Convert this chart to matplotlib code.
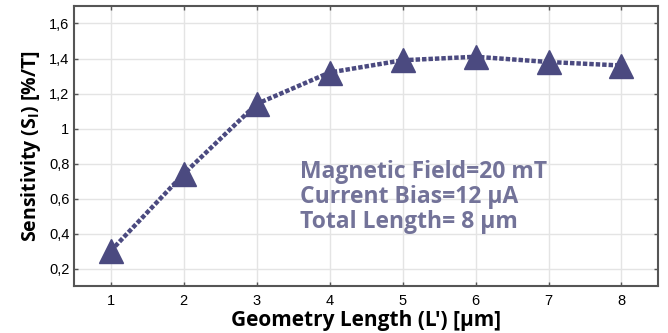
import matplotlib.pyplot as plt

plt.rcParams['font.family'] = ['Liberation Sans', 'DejaVu Sans']

# data
lengths = [1, 2, 3, 4, 5, 6, 7, 8]
sensitivity = [0.30, 0.74, 1.14, 1.32, 1.39, 1.41, 1.38, 1.36]
y_ticks = [0.2, 0.4, 0.6, 0.8, 1.0, 1.2, 1.4, 1.6]
y_tick_labels = ['0,2', '0,4', '0,6', '0,8', '1', '1,2', '1,4', '1,6']
notes = ['Magnetic Field=20 mT', 'Current Bias=12 μA', 'Total Length= 8 μm']

line_col = '#4b4a80'
text_col = '#737399'

fig = plt.figure(figsize=(6.68, 3.33), dpi=100)
ax = fig.add_axes([0.111, 0.141, 0.874, 0.841])

ax.plot(lengths, sensitivity, color=line_col, lw=3.2, ls=(0, (1.0, 0.45)),
        marker='^', markersize=17, markerfacecolor=line_col,
        markeredgecolor=line_col, zorder=3)

ax.set_xlim(0.5, 8.5)
ax.set_ylim(0.1, 1.7)
ax.set_xticks(lengths)
ax.set_yticks(y_ticks)
ax.set_yticklabels(y_tick_labels)
ax.tick_params(labelsize=10.5, length=3, width=1, color='#555555',
               top=True, right=True, direction='in')
ax.tick_params(axis='x', pad=6)
ax.grid(True, color='#e4e4e4', lw=1)
ax.set_axisbelow(True)
for s in ax.spines.values():
    s.set_color('#555555')
    s.set_linewidth(1.5)

bold = ['Open Sans', 'DejaVu Sans']
ax.set_xlabel("Geometry Length (L') [μm]", fontsize=15, fontweight='bold',
              family=bold, labelpad=1)
ax.set_ylabel(r'Sensitivity (S$_\mathregular{I}$) [%/T]', fontsize=14,
              fontweight='bold', family=bold, labelpad=4)

for i, t in enumerate(notes):
    ax.text(3.59, 0.75 - i * 0.143, t, fontsize=16.5, fontweight='bold',
            color=text_col, family=bold, va='center', ha='left')

fig.savefig('out.png', dpi=100)
